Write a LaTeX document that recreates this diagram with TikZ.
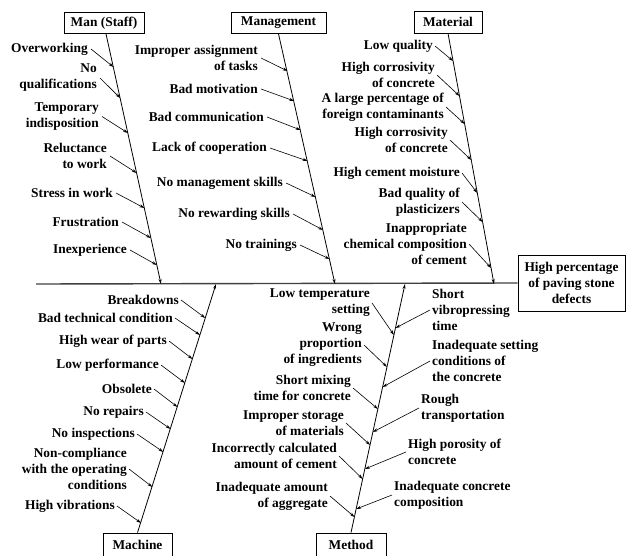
\documentclass[tikz,border=0pt]{standalone}
\usepackage{fontspec}
\setmainfont{Liberation Serif}
\usetikzlibrary{arrows.meta}
\begin{document}
\begin{tikzpicture}[x=1pt,y=-1pt,
  every node/.style={font=\fontsize{13.4}{16}\selectfont\bfseries},
  lbl/.style={align=right,inner sep=0pt,anchor=east},
  rlbl/.style={align=left,inner sep=0pt,anchor=west},
  cat/.style={draw,line width=0.8pt,inner sep=0pt,minimum height=21pt},
  arr/.style={line width=0.6pt,-{Stealth[length=5pt,width=3pt]}},
  bone/.style={line width=0.8pt,-{Stealth[length=5pt,width=3pt]}},
  spine/.style={line width=1.4pt,draw=black!75}]
\useasboundingbox (0,0) rectangle (626,556);
% categories and head
\node[cat,minimum width=80pt] (man) at (104,23) {Man (Staff)};
\node[cat,minimum width=95pt] (mgmt) at (278.5,23) {Management};
\node[cat,minimum width=68pt,minimum height=22pt] (mat) at (448,22) {Material};
\node[cat,minimum width=69pt,minimum height=24pt] (mach) at (137.5,545) {Machine};
\node[cat,minimum width=70pt,minimum height=24pt] (meth) at (351,545) {Method};
\node[cat,minimum width=107pt,minimum height=56pt,align=center] (head) at (571.5,283) {High percentage\\of paving stone\\defects};
% spine
\coordinate (sp0) at (36,284);
\draw[spine] (sp0) -- (head.west);
% bone tips on the spine
\coordinate (manT) at (161,284);
\coordinate (mgmtT) at (335,284);
\coordinate (matT) at (494,284);
\coordinate (machT) at (216,284);
\coordinate (methT) at (405,284);
\draw[bone] ([xshift=2pt]man.south) -- (manT);
\draw[bone] (mgmt.south) -- (mgmtT);
\draw[bone] (mat.south) -- (matT);
\draw[bone] (mach.north) -- (machT);
\draw[bone] (meth.north) -- (methT);
% Man (Staff)
\node[lbl] (a1) at (88,49) {Overworking};
\node[lbl] (a2) at (97,78) {No\\qualifications};
\node[lbl] (a3) at (99,116.5) {Temporary\\indisposition};
\node[lbl] (a4) at (107,156) {Reluctance\\to work};
\node[lbl] (a5) at (113,193) {Stress in work};
\node[lbl] (a6) at (119,222) {Frustration};
\node[lbl] (a7) at (127,250) {Inexperience};
\coordinate (ae1) at (113.4,67);
\coordinate (ae2) at (120.2,98);
\coordinate (ae3) at (127.9,133);
\coordinate (ae4) at (136.7,173);
\coordinate (ae5) at (144.3,208);
\coordinate (ae6) at (150.9,238);
\coordinate (ae7) at (156.8,265);
\foreach \i in {1,...,7} \draw[arr] ([xshift=3pt]a\i.east) -- (ae\i);
% Management
\node[lbl] (b1) at (258,58) {Improper assignment\\of tasks};
\node[lbl] (b2) at (258,89) {Bad motivation};
\node[lbl] (b3) at (264,117) {Bad communication};
\node[lbl] (b4) at (267,148) {Lack of cooperation};
\node[lbl] (b5) at (283,183) {No management skills};
\node[lbl] (b6) at (290,214) {No rewarding skills};
\node[lbl] (b7) at (297,245) {No trainings};
\coordinate (be1) at (287.5,71);
\coordinate (be2) at (294.2,101);
\coordinate (be3) at (300.6,130);
\coordinate (be4) at (307.6,161);
\coordinate (be5) at (315.6,197);
\coordinate (be6) at (323.0,230);
\coordinate (be7) at (329.5,259);
\foreach \i in {1,...,7} \draw[arr] ([xshift=3pt]b\i.east) -- (be\i);
% Material
\node[lbl] (c1) at (433,46) {Low quality};
\node[lbl] (c2) at (435,75) {High corrosivity\\of concrete};
\node[lbl] (c3) at (444,107) {A large percentage of\\foreign contaminants};
\node[lbl] (c4) at (448,140) {High corrosivity\\of concrete};
\node[lbl] (c5) at (460,173) {High cement moisture};
\node[lbl] (c6) at (460,202) {Bad quality of\\plasticizers};
\node[lbl] (c7) at (467,244) {Inappropriate\\chemical composition\\of cement};
\coordinate (ce1) at (453.1,61);
\coordinate (ce2) at (459.5,96);
\coordinate (ce3) at (464.7,124);
\coordinate (ce4) at (471.3,160);
\coordinate (ce5) at (477.3,193);
\coordinate (ce6) at (482.6,222);
\coordinate (ce7) at (491.1,268);
\foreach \i in {1,...,7} \draw[arr] ([xshift=2pt]c\i.east) -- (ce\i);
% Machine
\node[lbl] (d1) at (179,300) {Breakdowns};
\node[lbl] (d2) at (173,318) {Bad technical condition};
\node[lbl] (d3) at (167,341) {High wear of parts};
\node[lbl] (d4) at (159,365) {Low performance};
\node[lbl] (d5) at (152,389) {Obsolete};
\node[lbl] (d6) at (144,412) {No repairs};
\node[lbl] (d7) at (135,434) {No inspections};
\node[lbl] (d8) at (127,469) {Non-compliance\\with the operating\\conditions};
\node[lbl] (d9) at (115,506) {High vibrations};
\coordinate (de1) at (205.3,318);
\coordinate (de2) at (200.0,335);
\coordinate (de3) at (192.5,359);
\coordinate (de4) at (185.0,383);
\coordinate (de5) at (177.5,407);
\coordinate (de6) at (170.6,429);
\coordinate (de7) at (163.4,452);
\coordinate (de8) at (152.4,487);
\coordinate (de9) at (141.1,523);
\foreach \i in {1,...,9} \draw[arr] ([xshift=2pt]d\i.east) -- (de\i);
% Method, left side
\node[lbl] (e1) at (370,303) {Low temperature\\setting};
\node[lbl] (e2) at (362,345) {Wrong\\proportion\\of ingredients};
\node[lbl] (e3) at (351,388) {Short mixing\\time for concrete};
\node[lbl] (e4) at (344,423) {Improper storage\\of materials};
\node[lbl] (e5) at (337,456) {Incorrectly calculated\\amount of cement};
\node[lbl] (e6) at (328,496) {Inadequate amount\\of aggregate};
\coordinate (ee1) at (393.9,335);
\coordinate (ee2) at (387.0,367);
\coordinate (ee3) at (377.9,409);
\coordinate (ee4) at (370.1,445);
\coordinate (ee5) at (362.7,479);
\coordinate (ee6) at (354.5,517);
\foreach \i in {1,...,6} \draw[arr] ([xshift=2pt]e\i.east) -- (ee\i);
% Method, right side
\node[rlbl] (f1) at (432,310) {Short\\vibropressing\\time};
\node[rlbl] (f2) at (432,361) {Inadequate setting\\conditions of\\the concrete};
\node[rlbl] (f3) at (421,408) {Rough\\transportation};
\node[rlbl] (f4) at (408,452) {High porosity of\\concrete};
\node[rlbl] (f5) at (394,495) {Inadequate concrete\\composition};
\coordinate (fe1) at (395.5,328);
\coordinate (fe2) at (382.7,387);
\coordinate (fe3) at (372.9,432);
\coordinate (fe4) at (364.9,469);
\coordinate (fe5) at (356.2,509);
\foreach \i in {1,...,5} \draw[arr] ([xshift=-2pt]f\i.west) -- (fe\i);
\end{tikzpicture}
\end{document}
